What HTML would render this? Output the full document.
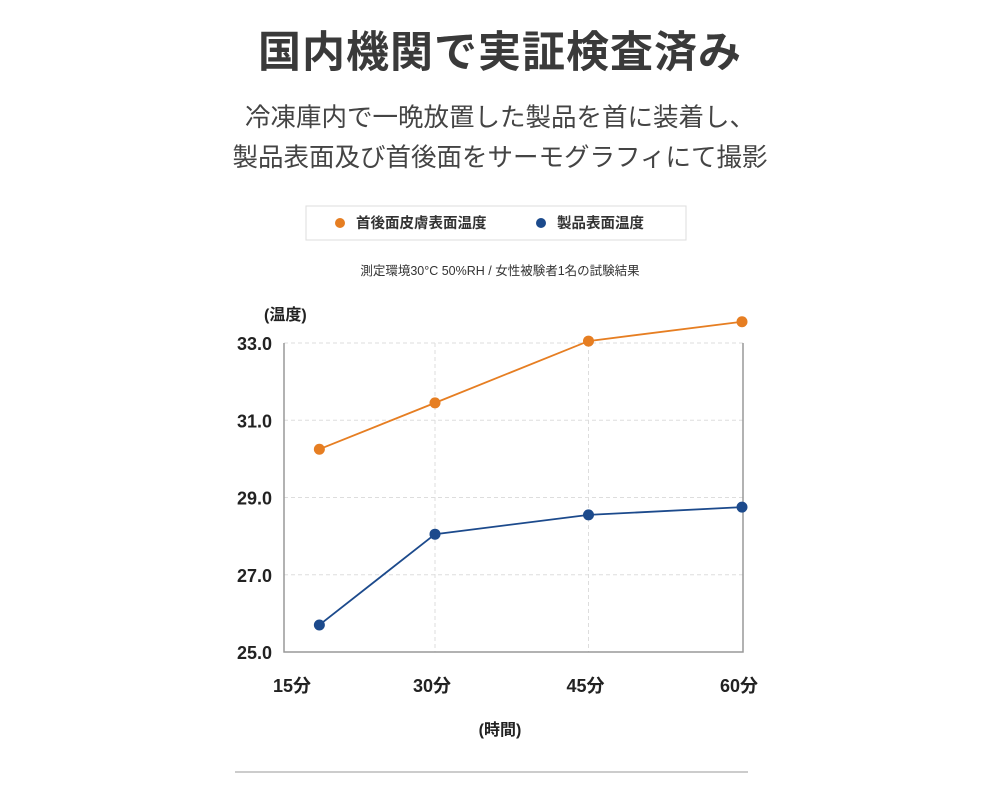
<!DOCTYPE html>
<html><head><meta charset="utf-8"><style>
body{margin:0;width:1000px;height:800px;background:#fff;font-family:"Liberation Sans","Noto Sans CJK JP",sans-serif;position:relative;overflow:hidden}
.t{position:absolute;left:0;width:1000px;text-align:center;color:#333}
</style></head><body>
<div class="t" style="top:18px;font-size:43px;font-weight:bold;color:#3a3a3a;letter-spacing:1px">国内機関で実証検査済み</div>
<div class="t" style="top:98px;font-size:25.5px;line-height:40px;color:#444">冷凍庫内で一晩放置した製品を首に装着し、<br>製品表面及び首後面をサーモグラフィにて撮影</div>
<svg id="chart" width="1000" height="800" style="position:absolute;left:0;top:0"></svg>
<script>
const categories=["15分","30分","45分","60分"];
const tickMinutes=[15,30,45,60];
const pointMinutes=[18.7,30,45,60];
const skinTemp=[30.25,31.45,33.05,33.55];
const productTemp=[25.7,28.05,28.55,28.75];
const yTicks=[25,27,29,31,33];
const yTickLabels=["25.0","27.0","29.0","31.0","33.0"];
const NS="http://www.w3.org/2000/svg";
const svg=document.getElementById('chart');
const x=m=>435+(m-30)*(742-435)/30;
const y=v=>652-(v-25)*(652-343)/8;
function el(t,a,p){const e=document.createElementNS(NS,t);for(const k in a)e.setAttribute(k,a[k]);(p||svg).appendChild(e);return e;}
const lg=el('g',{});


el('rect',{x:306,y:206,width:380,height:34,fill:'#fff',stroke:'#ddd'},lg);
el('circle',{cx:340,cy:223,r:5,fill:'#e67e22'},lg);
const l1=el('text',{x:356,y:228,'font-size':14.5,'font-weight':'bold',fill:'#333'},lg);l1.textContent='首後面皮膚表面温度';
el('circle',{cx:541,cy:223,r:5,fill:'#1c4a8c'},lg);
const l2=el('text',{x:557,y:228,'font-size':14.5,'font-weight':'bold',fill:'#333'},lg);l2.textContent='製品表面温度';
const note=el('text',{x:500,y:275,'font-size':12.5,'text-anchor':'middle',fill:'#333'});


note.textContent='測定環境30°C 50%RH / 女性被験者1名の試験結果';
yTicks.forEach((v,i)=>{
 if(v>25){const g=el('line',{x1:284,x2:743,y1:y(v),y2:y(v),stroke:'#ddd','stroke-dasharray':'4,3'});
 }
 const t=el('text',{x:272,y:y(v)+7,'font-size':18,'font-weight':'bold','text-anchor':'end',fill:'#222'});
 
 t.textContent=yTickLabels[i];
});
tickMinutes.forEach((m,i)=>{
 if(m>15&&m<60){const g=el('line',{x1:x(m),x2:x(m),y1:343,y2:652,stroke:'#ddd','stroke-dasharray':'4,3'});
 }
 const t=el('text',{x:i==0?292:x(m)-3,y:692,'font-size':18,'font-weight':'bold','text-anchor':'middle',fill:'#222'});
 
 t.textContent=categories[i];
});
const ax=el('path',{d:'M284 343V652H743V343',fill:'none',stroke:'#999','stroke-width':1.5});

const yt=el('text',{x:264,y:320,'font-size':16,'font-weight':'bold',fill:'#222'});
yt.textContent='(温度)';
const xt=el('text',{x:500,y:735,'font-size':16,'font-weight':'bold','text-anchor':'middle',fill:'#222'});
xt.textContent='(時間)';
function series(vals,color,name){
 const p=el('polyline',{points:vals.map((v,i)=>x(pointMinutes[i])+','+y(v)).join(' '),fill:'none',stroke:color,'stroke-width':1.8});
 
 vals.forEach((v,i)=>{const c=el('circle',{cx:x(pointMinutes[i]),cy:y(v),r:5.5,fill:color});
 });
}
series(skinTemp,'#e67e22','skin-temp');
series(productTemp,'#1c4a8c','product-temp');
const hr=el('line',{x1:235,x2:748,y1:772,y2:772,stroke:'#bbb','stroke-width':1.5});

</script>
</body></html>
